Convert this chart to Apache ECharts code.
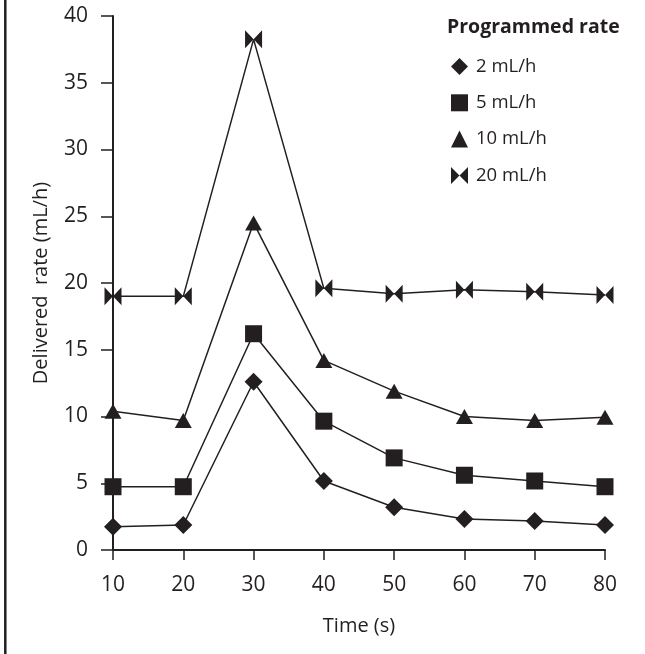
<!DOCTYPE html>
<html>
<head>
<meta charset="utf-8">
<script src="https://cdn.jsdelivr.net/npm/echarts@6/dist/echarts.min.js"></script>
<style>html,body{margin:0;padding:0;background:#fff;}#c{width:645px;height:654px;}</style>
</head>
<body>
<div id="c"></div>
<script>
const times = [10, 20, 30, 40, 50, 60, 70, 80];
const seriesNames = ['2 mL/h', '5 mL/h', '10 mL/h', '20 mL/h'];
const rate2 = [1.75, 1.87, 12.6, 5.17, 3.2, 2.32, 2.17, 1.87];
const rate5 = [4.74, 4.74, 16.2, 9.65, 6.9, 5.6, 5.17, 4.74];
const rate10 = [10.4, 9.7, 24.5, 14.2, 11.9, 10.0, 9.7, 9.95];
const rate20 = [19.0, 19.0, 38.25, 19.6, 19.2, 19.5, 19.35, 19.1];
const yTicks = [0, 5, 10, 15, 20, 25, 30, 35, 40];
const xTicks = [10, 20, 30, 40, 50, 60, 70, 80];

const INK = '#231f20';
const FONT = 'Open Sans';
const bowtie = 'path://M0,0L10,10L0,20Z M20,0L10,10L20,20Z';
const symbols = ['diamond', 'rect', 'triangle', bowtie];
const symSizes = [[18, 18], [17, 17], [17, 15], [17, 18]];
const values = [rate2, rate5, rate10, rate20];

const chart = echarts.init(document.getElementById('c'), null, {renderer: 'canvas'});
chart.setOption({
  animation: false,
  backgroundColor: '#fff',
  textStyle: {fontFamily: FONT, color: INK},
  grid: {left: 113, right: 40, top: 16, bottom: 104, containLabel: false},
  graphic: [
    {type: 'line', shape: {x1: 5.3, y1: 0, x2: 5.3, y2: 654}, style: {stroke: INK, lineWidth: 2.5}},
    {type: 'text', left: 447, top: 17, style: {text: 'Programmed rate', fontFamily: FONT, fontWeight: 'bold', fontSize: 19.5, fill: INK}}
  ],
  legend: {
    orient: 'vertical', left: 446, top: 52,
    itemWidth: 17, itemHeight: 17, itemGap: 17.3,
    textStyle: {fontFamily: FONT, fontSize: 18.5, color: INK, padding: [0, 0, 0, 3]},
    data: seriesNames.map((n, i) => ({name: n, icon: symbols[i], itemStyle: {color: INK}}))
  },
  xAxis: {
    type: 'value', min: 10, max: 80, interval: 10,
    name: 'Time (s)', nameLocation: 'middle', nameGap: 66,
    nameTextStyle: {fontFamily: FONT, fontSize: 20, color: INK},
    axisLine: {show: true, lineStyle: {color: INK, width: 2}},
    axisTick: {show: true, length: 10, lineStyle: {color: INK, width: 1.5}},
    axisLabel: {margin: 25, fontFamily: FONT, fontSize: 21, color: INK},
    splitLine: {show: false}
  },
  yAxis: {
    type: 'value', min: 0, max: 40, interval: 5,
    name: 'Delivered  rate (mL/h)', nameLocation: 'middle', nameGap: 62,
    nameTextStyle: {fontFamily: FONT, fontSize: 20, color: INK},
    axisLine: {show: true, lineStyle: {color: INK, width: 2}},
    axisTick: {show: true, length: 12, lineStyle: {color: INK, width: 1.5}},
    axisLabel: {margin: 25, fontFamily: FONT, fontSize: 21, color: INK},
    splitLine: {show: false}
  },
  series: seriesNames.map((n, i) => ({
    name: n, type: 'line',
    data: times.map((t, j) => [t, values[i][j]]),
    symbol: symbols[i], symbolSize: symSizes[i], showAllSymbol: true,
    itemStyle: {color: INK, borderWidth: 0},
    lineStyle: {color: INK, width: 1.5},
    emphasis: {disabled: true},
    z: 3
  }))
});
</script>
</body>
</html>
